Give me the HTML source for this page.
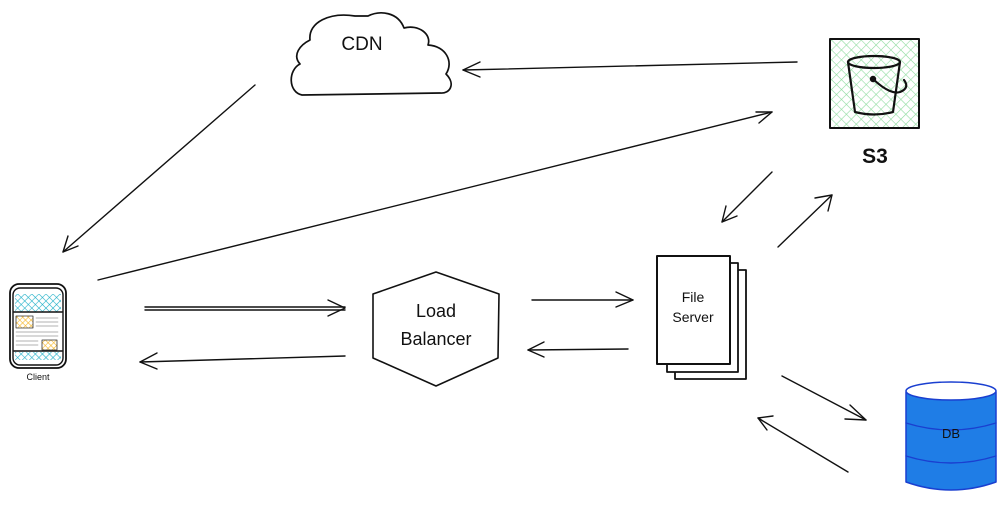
<!DOCTYPE html>
<html><head><meta charset="utf-8"><style>
html,body{margin:0;padding:0;background:#fff;}
svg{display:block;}
text{font-family:"Comic Sans MS","Liberation Sans",sans-serif;fill:#111;}
</style></head><body>
<svg width="1007" height="506" viewBox="0 0 1007 506" xmlns="http://www.w3.org/2000/svg">
<defs>
<pattern id="g" width="7" height="7" patternUnits="userSpaceOnUse" patternTransform="rotate(45)">
<line x1="0" y1="0" x2="0" y2="7" stroke="#8fdca0" stroke-width="1.2"/>
<line x1="0" y1="0" x2="7" y2="0" stroke="#8fdca0" stroke-width="1.2"/>
</pattern>
<pattern id="c" width="5" height="5" patternUnits="userSpaceOnUse" patternTransform="rotate(45)">
<line x1="0" y1="0" x2="0" y2="5" stroke="#22b0c8" stroke-width="1.2"/>
<line x1="0" y1="0" x2="5" y2="0" stroke="#22b0c8" stroke-width="1.2"/>
</pattern>
<pattern id="o" width="4" height="4" patternUnits="userSpaceOnUse" patternTransform="rotate(45)">
<line x1="0" y1="0" x2="0" y2="4" stroke="#f5b72a" stroke-width="1.2"/>
<line x1="0" y1="0" x2="4" y2="0" stroke="#f5b72a" stroke-width="1.2"/>
</pattern>
</defs>
<g fill="none" stroke="#111" stroke-width="1.4" stroke-linecap="round" stroke-linejoin="round">
<!-- Cloud -->
<path d="M302,95 C288,92 288,70 300,64 C292,55 300,45 310,40 C308,22 330,12 355,16 L368,16 C380,10 398,12 404,28 C418,24 432,34 428,45 C446,46 454,62 446,74 C456,84 450,94 440,93 Z" stroke-width="1.7"/>
<!-- S3 -->
<rect x="830" y="39" width="89" height="89" fill="url(#g)"/>
<rect x="830" y="39" width="89" height="89" stroke-width="2"/>
<ellipse cx="874" cy="62" rx="26" ry="6" stroke-width="2.2"/>
<path d="M848,62 L855,112 Q874,117 893,112 L900,62" stroke-width="2.2"/>
<circle cx="873" cy="79" r="2.5" fill="#111"/>
<path d="M873,79 Q890,95 900,92 Q910,88 904,80" stroke-width="2.2"/>
<!-- Client phone -->
<rect x="10" y="284" width="56" height="84" rx="9" stroke-width="1.8"/>
<rect x="13" y="288" width="50" height="77" rx="7"/>
<rect x="15" y="294" width="46" height="18" fill="url(#c)" stroke="none"/>
<rect x="15" y="352" width="46" height="8" fill="url(#c)" stroke="none"/>
<rect x="16" y="316" width="17" height="12" fill="url(#o)" stroke="#333" stroke-width="0.8"/>
<rect x="42" y="340" width="15" height="10" fill="url(#o)" stroke="#333" stroke-width="0.8"/>
<g stroke="#999" stroke-width="0.7">
<line x1="36" y1="318" x2="58" y2="318"/><line x1="36" y1="322" x2="58" y2="322"/><line x1="36" y1="326" x2="58" y2="326"/>
<line x1="16" y1="332" x2="58" y2="332"/><line x1="16" y1="336" x2="58" y2="336"/><line x1="16" y1="341" x2="38" y2="341"/><line x1="16" y1="345" x2="38" y2="345"/>
</g>
<line x1="14" y1="312" x2="62" y2="312"/><line x1="14" y1="351" x2="62" y2="351"/>
<!-- Load balancer hexagon -->
<path d="M436,272 L499,294 L498,358 L436,386 L373,358 L373,294 Z" stroke-width="1.6"/>
<!-- File server pages -->
<rect x="675" y="270" width="71" height="109" fill="#fff" stroke-width="1.8"/>
<rect x="667" y="263" width="71" height="109" fill="#fff" stroke-width="1.8"/>
<rect x="657" y="256" width="73" height="108" fill="#fff" stroke-width="2"/>
<!-- DB -->
<path d="M906,392 L906,482 Q951,498 996,482 L996,392" fill="#1f7de6" stroke="#1a3fd0" stroke-width="1.5"/>
<ellipse cx="951" cy="391" rx="45" ry="9" fill="#fff" stroke="#1a3fd0" stroke-width="1.5"/>
<path d="M906,423 Q951,437 996,423" stroke="#1a3fd0"/>
<path d="M906,456 Q951,470 996,456" stroke="#1a3fd0"/>
<!-- Arrows -->
<line x1="255" y1="85" x2="63" y2="252"/><path d="M68,236 L63,252 L78,246"/>
<line x1="797" y1="62" x2="463" y2="70"/><path d="M480,62 L463,70 L480,77"/>
<line x1="98" y1="280" x2="772" y2="112"/><path d="M756,112 L772,112 L759,123"/>
<line x1="145" y1="307" x2="345" y2="307"/><line x1="145" y1="310" x2="345" y2="310"/><path d="M328,300 L345,308 L328,316"/>
<line x1="345" y1="356" x2="140" y2="362"/><path d="M157,353 L140,362 L157,369"/>
<line x1="532" y1="300" x2="633" y2="300"/><path d="M616,292 L633,300 L616,307"/>
<line x1="628" y1="349" x2="528" y2="350"/><path d="M544,342 L528,350 L544,357"/>
<line x1="772" y1="172" x2="722" y2="222"/><path d="M726,206 L722,222 L737,216"/>
<line x1="778" y1="247" x2="832" y2="195"/><path d="M815,198 L832,195 L828,211"/>
<line x1="782" y1="376" x2="866" y2="420"/><path d="M850,405 L866,420 L845,419"/>
<line x1="848" y1="472" x2="758" y2="418"/><path d="M773,416 L758,418 L767,430"/>
</g>
<text x="362" y="50" font-size="19" text-anchor="middle">CDN</text>
<text x="875" y="163" font-size="21" font-weight="bold" text-anchor="middle">S3</text>
<text x="38" y="380" font-size="9" text-anchor="middle">Client</text>
<text x="436" y="317" font-size="18" text-anchor="middle">Load</text>
<text x="436" y="345" font-size="18" text-anchor="middle">Balancer</text>
<text x="693" y="302" font-size="14" text-anchor="middle">File</text>
<text x="693" y="322" font-size="14" text-anchor="middle">Server</text>
<text x="951" y="438" font-size="13" text-anchor="middle">DB</text>
</svg>
</body></html>
